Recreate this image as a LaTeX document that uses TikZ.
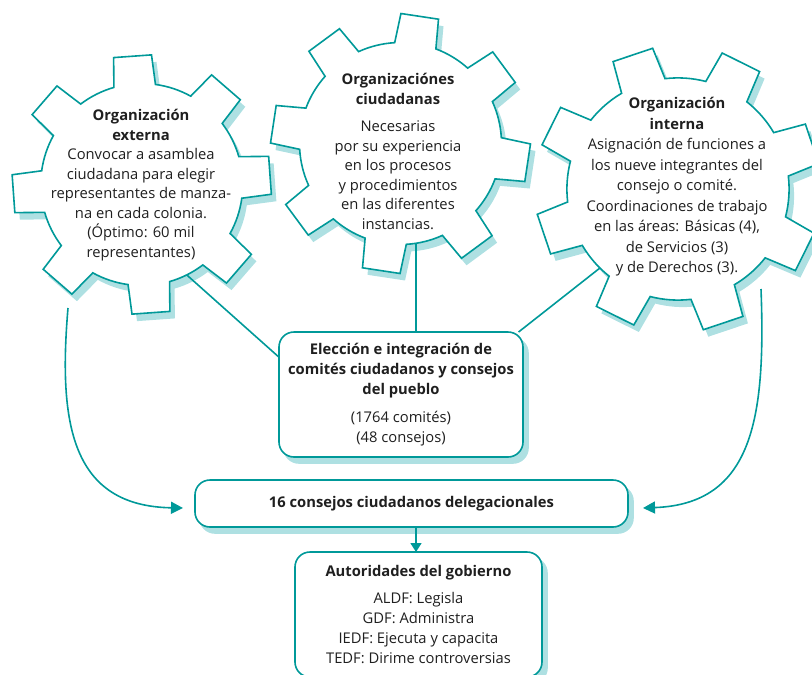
\documentclass[tikz,border=0pt]{standalone}
\usepackage{fontspec}
\setmainfont{Open Sans}
\usetikzlibrary{arrows.meta,calc}
\definecolor{teal1}{RGB}{0,153,153}
\definecolor{shade1}{RGB}{174,224,226}
\pgfdeclarelayer{shadowl}
\pgfdeclarelayer{linesl}
\pgfsetlayers{shadowl,linesl,main}
\newcommand\drawgear[5]{%
  \path[#5, shift={(#1,-#2)}, rotate=#4, scale=#3]
    (-11.9:101) \foreach \a in {0,45,...,315}{ -- (\a-8.4:130) -- (\a+8.4:130) -- (\a+11.9:101) arc (\a+11.9:\a+33.1:101)} -- cycle;
}
\tikzset{
  gearline/.style={draw=teal1, fill=white, line width=1.6pt, line join=miter},
  gearshade/.style={fill=shade1, xshift=5pt, yshift=-7pt},
  boxshadow/.style={fill=shade1, draw=shade1, line width=1.6pt, rounded corners=15pt},
  gtext/.style={align=center, inner sep=0pt, text=black!88, font=\fontsize{14.75}{19.5}\selectfont},
  box/.style={draw=teal1, line width=1.6pt, fill=white, rounded corners=15pt, align=center, inner sep=0pt,
    outer sep=0pt, text=black!88, font=\fontsize{14.75}{20}\selectfont},
  conn/.style={draw=teal1, line width=1.6pt},
  tipbig/.style={-{Triangle[length=12pt,width=12pt]}},
  tipsmall/.style={-{Triangle[length=9pt,width=11pt]}}
}
\begin{document}
\begin{tikzpicture}[x=1pt,y=1pt]
\useasboundingbox (0,0) rectangle (812,-675);
% gear shadows
\begin{pgfonlayer}{shadowl}
\drawgear{141.75}{184.5}{1}{4.1}{gearshade}
\drawgear{400.5}{143.5}{1}{-8.6}{gearshade}
\drawgear{678}{189}{1.1}{18.6}{gearshade}
\end{pgfonlayer}
% box shadows
\fill[boxshadow] (284,-338) rectangle (528,-463);
\fill[boxshadow] (200,-486) rectangle (633,-533);
\fill[boxshadow] (300,-558) rectangle (547,-683);
% boxes
\node[box, minimum width=244pt, minimum height=125pt] (E) at (401,-394.5)
  {\textbf{Elección e integración de}\\\textbf{comités ciudadanos y consejos}\\\textbf{del pueblo}\\[8pt](1764 comités)\\(48 consejos)};
\node[box, minimum width=433pt, minimum height=47pt] (C) at (411.5,-503.5)
  {\textbf{16 consejos ciudadanos delegacionales}};
\node[box, minimum width=247pt, minimum height=125pt] (A) at (418.5,-614.5)
  {\textbf{Autoridades del gobierno}\\[7pt]ALDF: Legisla\\GDF: Administra\\IEDF: Ejecuta y capacita\\TEDF: Dirime controversias};
% connectors from gears (behind gears)
\coordinate (sL) at (170,-260);
\coordinate (sM) at (416,-225);
\coordinate (sR) at (619,-253);
\begin{pgfonlayer}{linesl}
\draw[conn] (sL) -- (E.163);
\draw[conn] (sM) -- (sM |- E.north);
\draw[conn] (sR) -- (E.28);
\end{pgfonlayer}
% gears
\drawgear{141.75}{184.5}{1}{4.1}{gearline}
\drawgear{400.5}{143.5}{1}{-8.6}{gearline}
\drawgear{678}{189}{1.1}{18.6}{gearline}
% gear texts
\node[gtext] (tL) at (141,-185)
  {\textbf{Organización}\\\textbf{externa}\\Convocar a asamblea\\ciudadana para elegir\\representantes de manza-\\na en cada colonia.\\(Óptimo: 60 mil\\representantes)};
\node[gtext] (tM) at (398,-151.5)
  {\textbf{Organizaciónes}\\\textbf{ciudadanas}\\[8pt]Necesarias\\por su experiencia\\en los procesos\\y procedimientos\\en las diferentes\\instancias.};
\node[gtext, font=\fontsize{14.75}{20.5}\selectfont] (tR) at (677,-187)
  {\textbf{Organización}\\\textbf{interna}\\Asignación de funciones a\\los nueve integrantes del\\consejo o comité.\\Coordinaciones de trabajo\\en las áreas: Básicas (4),\\de Servicios (3)\\y de Derechos (3).};
% curved arrows
\coordinate (cL) at (68,-308);
\coordinate (cR) at (761,-289);
\draw[conn, tipbig] (cL) .. controls (58,-425) and (72,-506) .. ($(C.west)+(-12,-4.5)$);
\draw[conn, tipbig] (cR) .. controls (766,-420) and (752,-504) .. ($(C.east)+(15,-4.5)$);
\draw[conn, tipsmall] (C.south -| sM) -- (A.north -| sM);
\end{tikzpicture}
\end{document}
